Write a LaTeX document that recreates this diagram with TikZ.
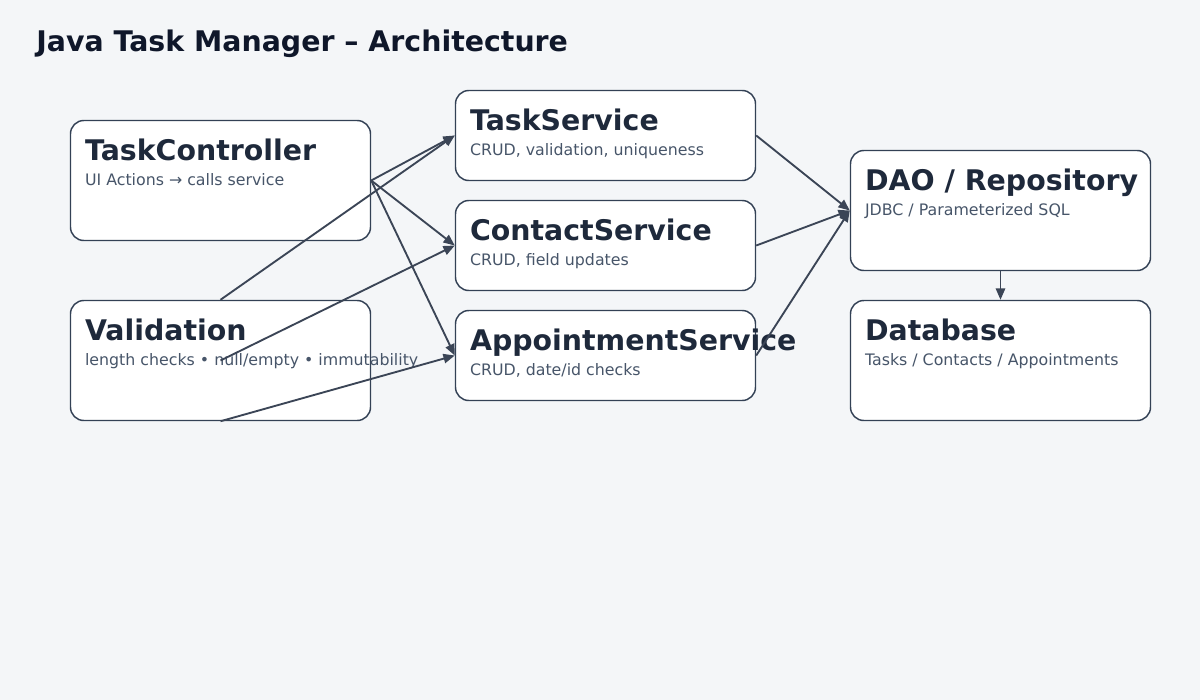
\documentclass[tikz,border=0pt]{standalone}
\usepackage{fontspec}
\setmainfont{DejaVu Sans}
\usepackage{tikz}
\usetikzlibrary{arrows.meta,positioning,calc}

\definecolor{bgpage}{HTML}{F4F6F8}
\definecolor{edgeline}{HTML}{334155}
\definecolor{titleink}{HTML}{0F172A}
\definecolor{headink}{HTML}{1E293B}
\definecolor{subink}{HTML}{475569}
\definecolor{arrowink}{HTML}{3B4556}

\begin{document}
\begin{tikzpicture}[
  x=0.75pt, y=-0.75pt,
  box/.style={draw=edgeline, line width=1.1pt, fill=white,
              rounded corners=10pt, minimum width=225pt,
              minimum height=90pt, inner sep=0pt},
  svcbox/.style={box, minimum height=67.5pt},
  head/.style={anchor=base west, inner sep=0pt,
               font=\fontsize{21.3}{25}\selectfont\bfseries, text=headink},
  sub/.style={anchor=base west, inner sep=0pt,
              font=\fontsize{11.85}{14}\selectfont, text=subink},
  arrow/.style={-{Triangle[length=8.5pt, width=7pt]},
                line width=1.4pt, draw=arrowink},
]
  % Page
  \fill[bgpage] (0,0) rectangle (1200,700);
  \useasboundingbox (0,0) rectangle (1200,700);

  % Title
  \node[head, text=titleink] (title) at (36,51)
    {Java Task Manager – Architecture};

  % Left column
  \node[box] (ctrl) at (220.5,180.5) {};
  \node[head] (ctrlHead) at ($(ctrl.north west)+(15,41)$) {TaskController};
  \node[sub] (ctrlSub) at ($(ctrl.north west)+(15,65.5)$)
    {UI Actions → calls service};

  \node[box] (valid) at (220.5,360.5) {};
  \node[head] (validHead) at ($(valid.north west)+(15,41)$) {Validation};
  \node[sub] (validSub) at ($(valid.north west)+(15,65.5)$)
    {length checks • null/empty • immutability};

  % Services
  \node[svcbox] (task) at (605.5,135.5) {};
  \node[head] (taskHead) at ($(task.north west)+(15,41)$) {TaskService};
  \node[sub] (taskSub) at ($(task.north west)+(15,65.5)$)
    {CRUD, validation, uniqueness};

  \node[svcbox] (contact) at (605.5,245.5) {};
  \node[head] (contactHead) at ($(contact.north west)+(15,41)$) {ContactService};
  \node[sub] (contactSub) at ($(contact.north west)+(15,65.5)$)
    {CRUD, field updates};

  \node[svcbox] (appt) at (605.5,355.5) {};
  \node[head] (apptHead) at ($(appt.north west)+(15,41)$) {AppointmentService};
  \node[sub] (apptSub) at ($(appt.north west)+(15,65.5)$)
    {CRUD, date/id checks};

  % Persistence
  \node[box] (dao) at (1000.5,210.5) {};
  \node[head] (daoHead) at ($(dao.north west)+(15,41)$) {DAO / Repository};
  \node[sub] (daoSub) at ($(dao.north west)+(15,65.5)$)
    {JDBC / Parameterized SQL};

  \node[box] (db) at (1000.5,360.5) {};
  \node[head] (dbHead) at ($(db.north west)+(15,41)$) {Database};
  \node[sub] (dbSub) at ($(db.north west)+(15,65.5)$)
    {Tasks / Contacts / Appointments};

  % Arrows
  \draw[arrow] (ctrl.east) -- (task.west);
  \draw[arrow] (ctrl.east) -- (contact.west);
  \draw[arrow] (ctrl.east) -- (appt.west);
  \draw[arrow] (valid.north) -- (task.west);
  \draw[arrow] (valid.center) -- (contact.west);
  \draw[arrow] (valid.south) -- (appt.west);
  \draw[arrow] (task.east) -- (dao.west);
  \draw[arrow] (contact.east) -- (dao.west);
  \draw[arrow] (appt.east) -- (dao.west);
  \draw[arrow] (dao.south) -- (db.north);
\end{tikzpicture}
\end{document}
